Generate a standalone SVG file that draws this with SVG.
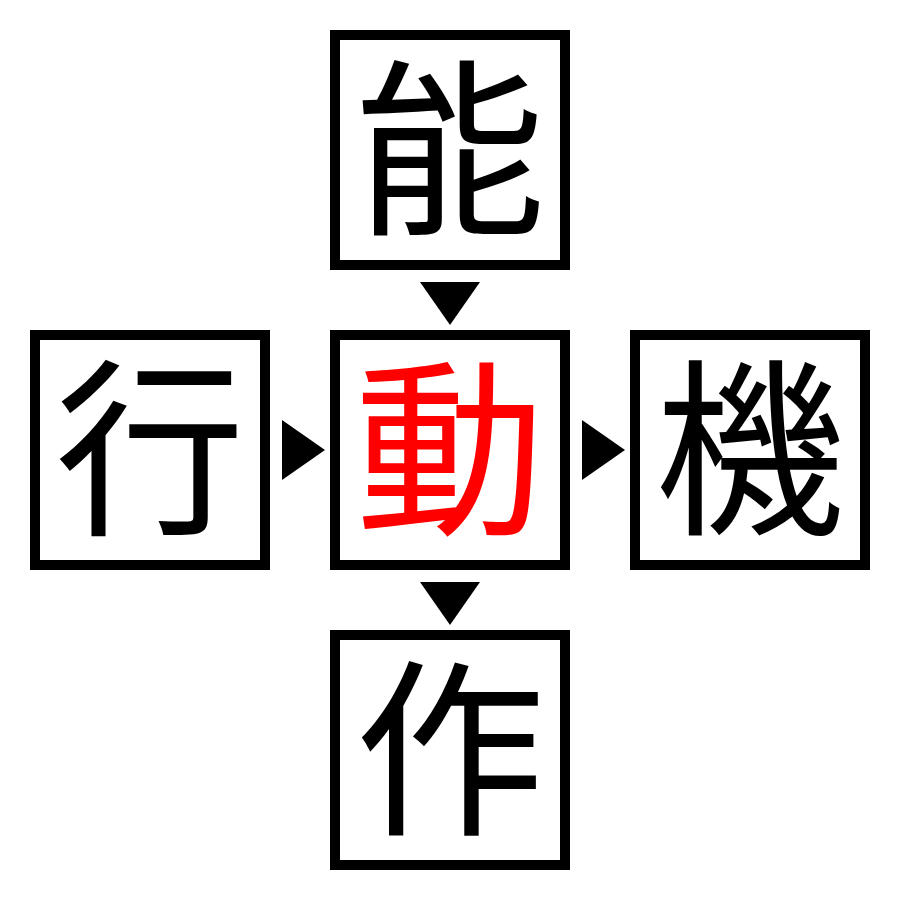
<svg xmlns="http://www.w3.org/2000/svg" width="900" height="900" viewBox="0 0 900 900">
<style>
.box{fill:#fff;stroke:#000;stroke-width:10}
.ch{font-family:"Noto Sans CJK JP","Noto Sans CJK SC",sans-serif;font-size:190px;text-anchor:middle;fill:#000}
.red{fill:#ff0000}
.arr{fill:#000}
</style>
<rect width="900" height="900" fill="#fff"/>
<g id="node-top"><rect class="box" x="335" y="35" width="230" height="230"/><text class="ch" x="450" y="220">能</text></g>
<g id="node-left"><rect class="box" x="35" y="335" width="230" height="230"/><text class="ch" x="150" y="520">行</text></g>
<g id="node-center"><rect class="box" x="335" y="335" width="230" height="230"/><text class="ch red" x="450" y="520">動</text></g>
<g id="node-right"><rect class="box" x="635" y="335" width="230" height="230"/><text class="ch" x="750" y="520">機</text></g>
<g id="node-bottom"><rect class="box" x="335" y="635" width="230" height="230"/><text class="ch" x="450" y="820">作</text></g>
<g id="connectors">
<polygon class="arr" points="420,282 480,282 450,325"/>
<polygon class="arr" points="282,420 282,480 325,450"/>
<polygon class="arr" points="582,420 582,480 625,450"/>
<polygon class="arr" points="420,582 480,582 450,625"/>
</g>
</svg>
